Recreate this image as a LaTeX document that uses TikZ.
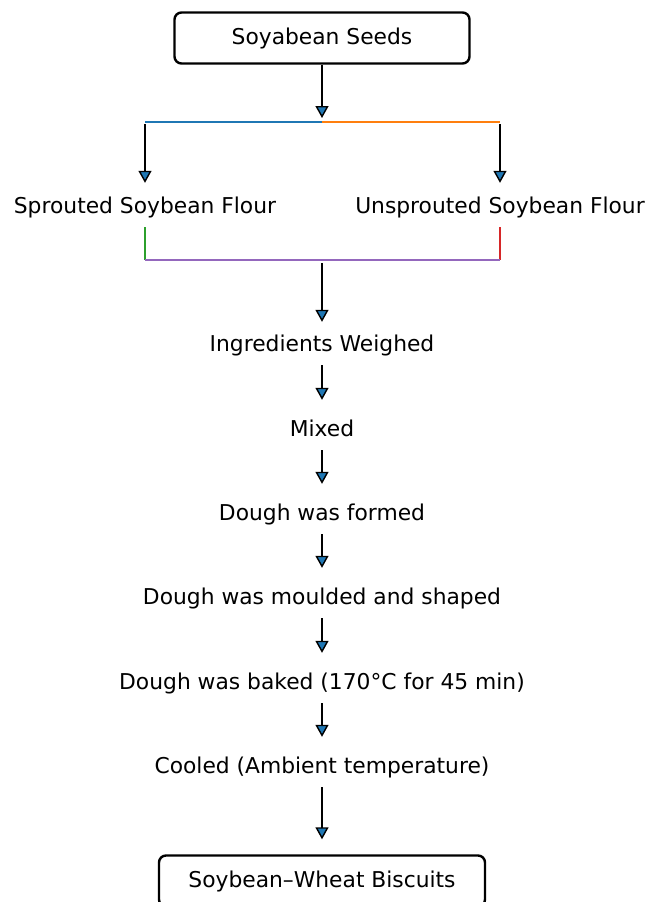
\documentclass[tikz,border=0pt]{standalone}
\usepackage{fontspec}
\setmainfont{DejaVu Sans}
\usepackage{xcolor}
\usetikzlibrary{positioning,arrows.meta}

\definecolor{tabblue}{HTML}{1F77B4}
\definecolor{taborange}{HTML}{FF7F0E}
\definecolor{tabgreen}{HTML}{2CA02C}
\definecolor{tabred}{HTML}{D62728}
\definecolor{tabpurple}{HTML}{9467BD}

\begin{document}
\begin{tikzpicture}[x=1pt,y=-1pt,
    every node/.style={font=\fontsize{21.8}{26}\selectfont},
    stage/.style={inner sep=0pt,text height=17pt,text depth=3pt},
    endbox/.style={draw=black,line width=2.4pt,rounded corners=7pt,minimum height=51pt},
    flow/.style={draw=black,line width=2.4pt,-{Triangle[width=13pt,length=12pt,fill=tabblue,line width=1.4pt]}},
    branch/.style={line width=2.4pt}]
            \useasboundingbox (0,0) rectangle (645,902);
            \clip (0,0) rectangle (645,902);

            \node[endbox,minimum width=295pt] (seeds) at (322,38) {Soyabean Seeds};
            \node[stage] (sprouted) at (145,206) {Sprouted Soybean Flour};
            \node[stage] (unsprouted) at (500,206) {Unsprouted Soybean Flour};
            \node[stage] (weighed) at (322,344) {Ingredients Weighed};
            \node[stage] (mixed) at (322,429) {Mixed};
            \node[stage] (formed) at (322,513) {Dough was formed};
            \node[stage] (moulded) at (322,597) {Dough was moulded and shaped};
            \node[stage] (baked) at (322,682) {Dough was baked (170°C for 45 min)};
            \node[stage] (cooled) at (322,766) {Cooled (Ambient temperature)};
            \node[endbox,minimum width=326pt] (biscuits) at (322,881) {Soybean–Wheat Biscuits};

            % split and join points
            \coordinate (splitM) at (322,122);
            \coordinate (splitL) at (145,122);
            \coordinate (splitR) at (500,122);
            \coordinate (joinL) at (145,260);
            \coordinate (joinR) at (500,260);
            \coordinate (joinM) at (322,260);

            \draw[branch,tabblue] (splitL) -- (splitM);
            \draw[branch,taborange] (splitM) -- (splitR);
            \draw[branch,tabgreen,shorten <=11pt] (sprouted.south) -- (joinL);
            \draw[branch,tabred,shorten <=11pt] (unsprouted.south) -- (joinR);
            \draw[branch,tabpurple] (joinL) -- (joinR);

            \draw[flow,shorten >=4pt] (seeds) -- (splitM);
            \draw[flow,shorten <=2pt,shorten >=13pt] (splitL) -- (sprouted.north);
            \draw[flow,shorten <=2pt,shorten >=13pt] (splitR) -- (unsprouted.north);
            \draw[flow,shorten <=3pt,shorten >=12pt] (joinM) -- (weighed.north);
            \begin{scope}[every path/.style={shorten <=11pt,shorten >=19pt}]
                \draw[flow] (weighed) -- (mixed);
                \draw[flow] (mixed) -- (formed);
                \draw[flow] (formed) -- (moulded);
                \draw[flow] (moulded) -- (baked);
                \draw[flow] (baked) -- (cooled);
            \end{scope}
            \draw[flow,shorten <=11pt,shorten >=15pt] (cooled) -- (biscuits);
        \end{tikzpicture}
\end{document}
